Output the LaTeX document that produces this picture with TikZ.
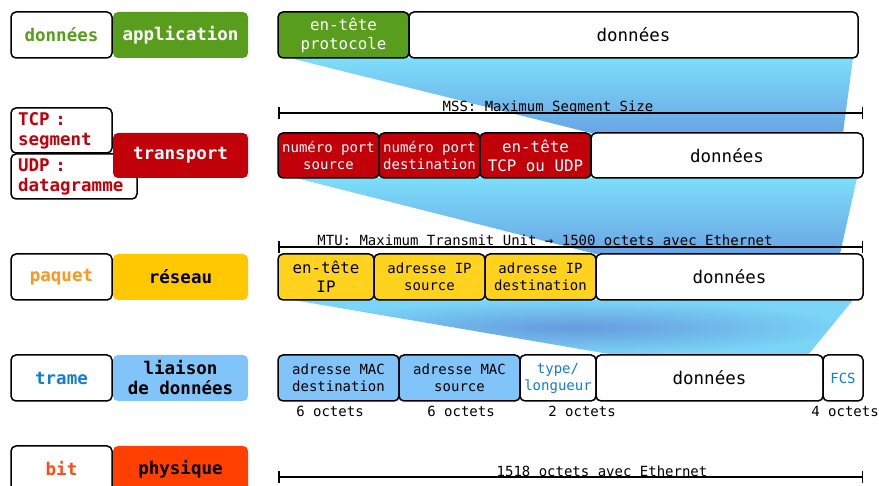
\documentclass[tikz,border=0pt]{standalone}
\usepackage{fontspec}
\setmainfont{DejaVu Sans Mono}
\usetikzlibrary{arrows.meta}
\usepackage{xcolor}
\definecolor{vert}{RGB}{88,158,28}
\definecolor{rouge}{RGB}{194,0,10}
\definecolor{jaune}{RGB}{255,200,0}
\definecolor{jauneclair}{RGB}{255,210,30}
\definecolor{bleuclair}{RGB}{128,196,250}
\definecolor{orangerouge}{RGB}{255,64,0}
\definecolor{orangetxt}{RGB}{255,150,30}
\definecolor{bleutxt}{RGB}{20,125,205}
\definecolor{bittxt}{RGB}{255,75,25}
\definecolor{cyanhaut}{RGB}{125,222,250}
\definecolor{cyanbas}{RGB}{105,165,228}
\definecolor{bleucentre}{RGB}{102,155,222}

\tikzset{
    couche/.style={rounded corners=5pt, inner sep=0pt, minimum width=135pt, minimum height=46pt, align=center, font=\bfseries\fontsize{17.5}{20}\selectfont},
    nom/.style={draw, line width=1.5pt, rounded corners=5pt, fill=white, inner sep=0pt, minimum width=101pt, minimum height=46pt, align=center, font=\bfseries\fontsize{17.5}{20}\selectfont},
    champ/.style={draw, line width=1.5pt, rounded corners=5pt, inner sep=0pt, minimum height=46pt, align=center, font=\fontsize{14}{17}\selectfont},
    entete/.style={champ, font=\fontsize{15.8}{19}\selectfont},
    donnees/.style={champ, fill=white, font=\fontsize{17.5}{20}\selectfont},
    taille/.style={{Bar[width=12pt]}-{Bar[width=12pt]}, line width=1.5pt},
    legende/.style={anchor=base, inner sep=0pt, font=\fontsize{14}{17}\selectfont},
}

\begin{document}
\begin{tikzpicture}[x=1pt, y=-1pt]
            \useasboundingbox (0,0) rectangle (879,486);

            % entonnoirs
            \shade[top color=cyanhaut, bottom color=cyanbas] (290,58) -- (853,58) -- (843,133) -- (591,133) -- cycle;
            \shade[top color=cyanhaut, bottom color=cyanbas] (296,178) -- (857,178) -- (840,254) -- (596,254) -- cycle;
            \shade[inner color=bleucentre, outer color=cyanhaut!85!cyanbas] (293,300) -- (853,300) -- (808,355) -- (615,355) -- cycle;

            % colonne de gauche
            \node[nom, text=vert] (nomapp) at (61.5,35) {données};
            \node[couche, fill=vert, text=white] (application) at (180.5,35) {application};

            \node[nom, text=rouge, align=left, minimum width=0pt, text width=87pt, inner xsep=7pt, minimum height=45pt] (tcp) at (61.5,130.5) {TCP :\\segment};
            \node[nom, text=rouge, align=left, minimum width=0pt, text width=112pt, inner xsep=7pt, minimum height=45pt] (udp) at (74,176.5) {UDP :\\datagramme};
            \node[couche, fill=rouge, text=white, minimum height=45pt] (transport) at (180.5,155.5) {transport};

            \node[nom, text=orangetxt] (paquet) at (61.5,277) {paquet};
            \node[couche, fill=jaune, text=black] (reseau) at (180.5,277) {réseau};

            \node[nom, text=bleutxt] (trame) at (61.5,378) {trame};
            \node[couche, fill=bleuclair, text=black] (liaison) at (180.5,378) {liaison\\de données};

            \node[nom, text=bittxt] (bit) at (61.5,469) {bit};
            \node[couche, fill=orangerouge, text=black] (physique) at (180.5,469) {physique};

            % application
            \node[entete, fill=vert, text=white, minimum width=131pt] (protocole) at (343.5,35) {en-tête\\protocole};
            \node[donnees, minimum width=449pt] (donnees1) at (633.5,35) {données};

            % transport
            \coordinate (mssg) at (278,113);
            \coordinate (mssd) at (863,113);
            \draw[taille] (mssg) -- (mssd);
            \node[legende] (mss) at (548,112) {MSS: Maximum Segment Size};
            \node[champ, fill=rouge, text=white, minimum width=101pt, minimum height=45pt] (portsrc) at (328.5,155.5) {numéro port\\source};
            \node[champ, fill=rouge, text=white, minimum width=101pt, minimum height=45pt] (portdst) at (429.5,155.5) {numéro port\\destination};
            \node[entete, fill=rouge, text=white, minimum width=111pt, minimum height=45pt] (entetetcp) at (535.5,155.5) {en-tête\\TCP ou UDP};
            \node[donnees, minimum width=272pt, minimum height=45pt] (donnees2) at (727,155.5) {données};

            % reseau
            \coordinate (mtug) at (278,247);
            \coordinate (mtud) at (863,247);
            \draw[taille] (mtug) -- (mtud);
            \node[legende] (mtu) at (545,246) {MTU: Maximum Transmit Unit → 1500 octets avec Ethernet};
            \node[entete, fill=jauneclair, minimum width=96pt] (enteteip) at (326,277) {en-tête\\IP};
            \node[champ, fill=jauneclair, minimum width=111pt] (ipsrc) at (429.5,277) {adresse IP\\source};
            \node[champ, fill=jauneclair, minimum width=111pt] (ipdst) at (540.5,277) {adresse IP\\destination};
            \node[donnees, minimum width=267pt] (donnees3) at (729.5,277) {données};

            % liaison
            \node[champ, fill=bleuclair, minimum width=121pt] (macdst) at (338.5,378) {adresse MAC\\destination};
            \node[champ, fill=bleuclair, minimum width=121pt] (macsrc) at (459.5,378) {adresse MAC\\source};
            \node[champ, fill=white, text=bleutxt, minimum width=76pt] (type) at (558,378) {type/\\longueur};
            \node[donnees, minimum width=227pt] (donnees4) at (709.5,378) {données};
            \node[champ, fill=white, text=bleutxt, minimum width=40pt] (fcs) at (843,378) {FCS};
            \node[legende] (o1) at (330,417) {6 octets};
            \node[legende] (o2) at (461,417) {6 octets};
            \node[legende] (o3) at (582,417) {2 octets};
            \node[legende] (o4) at (845,417) {4 octets};

            % physique
            \coordinate (trg) at (278,477);
            \coordinate (trd) at (863,477);
            \draw[taille] (trg) -- (trd);
            \node[legende] (trame1518) at (602,476) {1518 octets avec Ethernet};

        \end{tikzpicture}
\end{document}
